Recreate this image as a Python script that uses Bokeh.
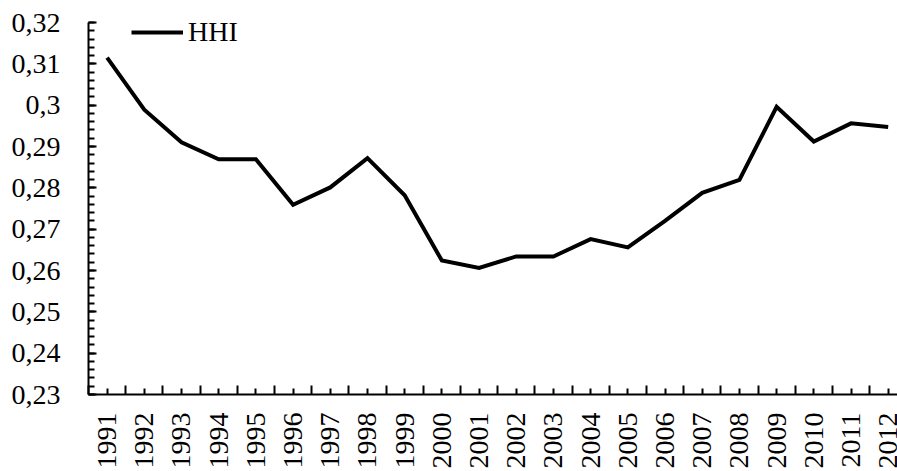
from bokeh.plotting import figure
from bokeh.models import Range1d, FixedTicker, CustomJSTickFormatter, Legend, LegendItem
from bokeh.embed import file_html
from bokeh.resources import INLINE

years = [1991, 1992, 1993, 1994, 1995, 1996, 1997, 1998, 1999, 2000, 2001,
         2002, 2003, 2004, 2005, 2006, 2007, 2008, 2009, 2010, 2011, 2012]
hhi = [0.3115, 0.2989, 0.2910, 0.2869, 0.2869, 0.2759, 0.2801, 0.2872, 0.2782,
       0.2624, 0.2606, 0.2634, 0.2634, 0.2676, 0.2656, 0.2720, 0.2788, 0.2819,
       0.2996, 0.2912, 0.2956, 0.2947]
year_labels = [str(y) for y in years]
y_ticks = [0.23, 0.24, 0.25, 0.26, 0.27, 0.28, 0.29, 0.30, 0.31, 0.32]
y_tick_labels = ["0,23", "0,24", "0,25", "0,26", "0,27", "0,28", "0,29", "0,3", "0,31", "0,32"]

FONT = "Liberation Serif"
FSIZE = "28px"

LOOKUP = """
let i = 0, b = 1e9;
for (let k = 0; k < tvals.length; k++) { const d = Math.abs(tvals[k] - tick); if (d < b) { b = d; i = k; } }
return tlabels[i];
"""

p = figure(width=897, height=471, output_backend="svg", toolbar_location=None,
           x_range=Range1d(1990.5, 2012.25), y_range=Range1d(0.23, 0.32),
           min_border_left=88, min_border_top=22, min_border_bottom=75, min_border_right=0)
p.outline_line_color = None
p.xgrid.grid_line_color = None
p.ygrid.grid_line_color = None
p.background_fill_color = "white"
p.border_fill_color = "white"

r = p.line(years, hhi, line_color="black", line_width=4, line_join="miter")

# x axis: labels at year centres, longer ticks at category boundaries
xa = p.xaxis[0]
xa.ticker = FixedTicker(ticks=years, minor_ticks=[y - 0.5 for y in years] + [years[-1] + 0.5])
xa.formatter = CustomJSTickFormatter(args=dict(tvals=years, tlabels=year_labels), code=LOOKUP)
xa.major_label_orientation = 1.5707963
xa.major_tick_in = 6
xa.major_tick_out = 0
xa.minor_tick_in = 9
xa.minor_tick_out = 0
xa.major_label_standoff = 18

ya = p.yaxis[0]
minor = [round(0.23 + 0.002 * i, 3) for i in range(46)]
ya.ticker = FixedTicker(ticks=y_ticks, minor_ticks=minor)
ya.formatter = CustomJSTickFormatter(args=dict(tvals=y_ticks, tlabels=y_tick_labels), code=LOOKUP)
ya.major_tick_in = 8
ya.major_tick_out = 0
ya.minor_tick_in = 6
ya.minor_tick_out = 0
ya.major_label_standoff = 28

for ax in (xa, ya):
    ax.axis_line_color = "black"
    ax.axis_line_width = 2
    ax.major_tick_line_color = "black"
    ax.major_tick_line_width = 2
    ax.minor_tick_line_color = "black"
    ax.minor_tick_line_width = 2
    ax.major_label_text_font = FONT
    ax.major_label_text_font_size = FSIZE
    ax.major_label_text_color = "black"

legend = Legend(items=[LegendItem(label="HHI", renderers=[r])], location=(43, 346),
                orientation="vertical", margin=0, padding=0, spacing=0,
                border_line_alpha=0, background_fill_alpha=0,
                glyph_width=52, glyph_height=32, label_height=32, label_width=60,
                label_standoff=5,
                label_text_font=FONT, label_text_font_size=FSIZE, label_text_color="black")
p.add_layout(legend, "center")

open("out.html", "w").write(file_html(p, INLINE))
